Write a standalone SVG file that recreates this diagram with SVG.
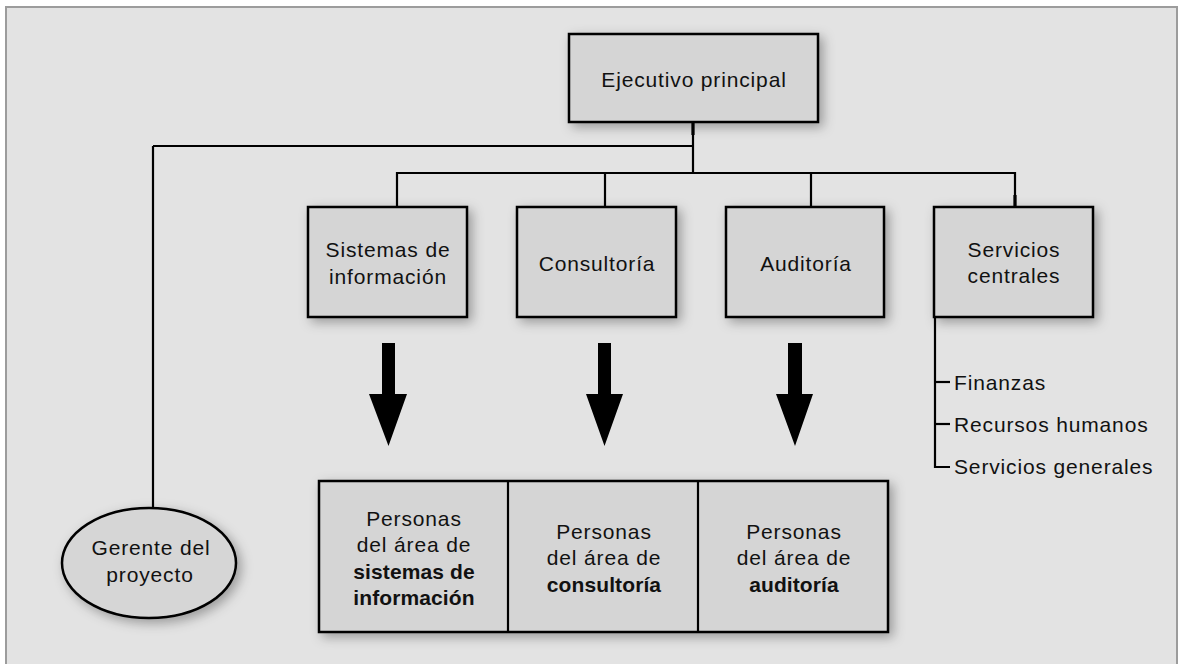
<svg xmlns="http://www.w3.org/2000/svg" width="1179" height="664" viewBox="0 0 1179 664">
<defs>
<filter id="sh" x="-20%" y="-20%" width="150%" height="150%">
<feDropShadow dx="4" dy="4" stdDeviation="6" flood-color="#000" flood-opacity="0.32"/>
</filter>
<style>
.box{fill:#d5d5d5;stroke:#000;stroke-width:2.5}
.ln{fill:none;stroke:#000;stroke-width:2.2}
.t{font-family:"Liberation Sans",Arial,sans-serif;font-size:21px;letter-spacing:0.85px;fill:#111;text-anchor:middle}
.l{text-anchor:start}
.b{font-weight:bold;letter-spacing:0.1px}
.arr{fill:#000}
</style>
</defs>
<rect x="6" y="7" width="1171" height="670" fill="#e3e3e3" stroke="#9c9c9c" stroke-width="2"/>

<g id="connectors">
<path class="ln" d="M693,122 V173"/>
<path d="M693,122 V135" stroke="#000" stroke-width="3.2"/>
<path class="ln" d="M153,146 H693"/>
<path class="ln" d="M153,146 V508"/>
<path class="ln" d="M397,207 V173 H1015 V207"/>
<path d="M1015,195 V207" stroke="#000" stroke-width="3.2"/>
<path class="ln" d="M605,173 V207"/>
<path class="ln" d="M811,173 V207"/>
<path class="ln" d="M935,317 V467 H950"/>
<path class="ln" d="M935,382 H950"/>
<path class="ln" d="M935,424 H950"/>
<polygon class="arr" points="382,343 395,343 395,394 407,394 388.5,446 369,394 382,394"/>
<polygon class="arr" points="598,343 611,343 611,394 623,394 604.5,446 586,394 598,394"/>
<polygon class="arr" points="788,343 802,343 802,394 813,394 795,446 776,394 788,394"/>
</g>

<g id="ejecutivo">
<rect class="box" x="569" y="34" width="249" height="88" filter="url(#sh)"/>
<text class="t" x="694" y="87">Ejecutivo principal</text>
</g>

<g id="sistemas">
<rect class="box" x="308" y="207" width="159" height="110" filter="url(#sh)"/>
<text class="t" x="388" y="257">Sistemas de</text>
<text class="t" x="388" y="284">información</text>
</g>

<g id="consultoria">
<rect class="box" x="517" y="207" width="159" height="110" filter="url(#sh)"/>
<text class="t" x="597" y="271">Consultoría</text>
</g>

<g id="auditoria">
<rect class="box" x="726" y="207" width="158" height="110" filter="url(#sh)"/>
<text class="t" x="806" y="271">Auditoría</text>
</g>

<g id="servicios">
<rect class="box" x="934" y="207" width="159" height="110" filter="url(#sh)"/>
<text class="t" x="1014" y="257">Servicios</text>
<text class="t" x="1014" y="283">centrales</text>
</g>

<g id="subservicios">
<text class="t l" x="954" y="390">Finanzas</text>
<text class="t l" x="954" y="432">Recursos humanos</text>
<text class="t l" x="954" y="474">Servicios generales</text>
</g>

<g id="gerente">
<ellipse cx="149" cy="563" rx="87" ry="55" fill="#d6d6d6" stroke="#000" stroke-width="2.5" filter="url(#sh)"/>
<text class="t" x="151" y="555">Gerente del</text>
<text class="t" x="150" y="582">proyecto</text>
</g>

<g id="personas">
<rect class="box" x="319" y="481" width="569" height="151" filter="url(#sh)"/>
<path class="ln" d="M508,481 V632 M698,481 V632" stroke-width="2.5"/>
</g>

<g id="personas-sistemas">
<text class="t" x="414" y="526">Personas</text>
<text class="t" x="414" y="552">del área de</text>
<text class="t b" x="414" y="579">sistemas de</text>
<text class="t b" x="414" y="605">información</text>
</g>

<g id="personas-consultoria">
<text class="t" x="604" y="539">Personas</text>
<text class="t" x="604" y="565">del área de</text>
<text class="t b" x="604" y="592">consultoría</text>
</g>

<g id="personas-auditoria">
<text class="t" x="794" y="539">Personas</text>
<text class="t" x="794" y="565">del área de</text>
<text class="t b" x="794" y="592">auditoría</text>
</g>
</svg>
